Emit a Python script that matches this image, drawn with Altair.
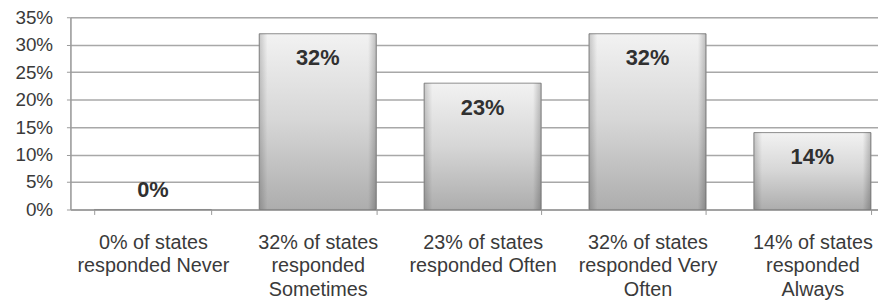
import altair as alt
import pandas as pd

categories = ["Never", "Sometimes", "Often", "Very Often", "Always"]
axis_labels = [
    "0% of states|responded Never",
    "32% of states|responded|Sometimes",
    "23% of states|responded Often",
    "32% of states|responded Very|Often",
    "14% of states|responded|Always",
]
values = [0, 32, 23, 32, 14]

df = pd.DataFrame({"cat": axis_labels, "value": values, "label": [f"{v}%" for v in values]})

x_scale = alt.Scale(range=[0, 832], paddingInner=0.29, paddingOuter=0.145)
x_enc = alt.X(
    "cat:N",
    sort=axis_labels,
    scale=x_scale,
    axis=alt.Axis(
        title=None,
        labelAngle=0,
        labelExpr="split(datum.label, '|')",
        labelFont="Liberation Sans",
        labelFontSize=20,
        labelColor="#3a3a3a",
        labelLineHeight=24,
        labelBaseline="top",
        labelPadding=18,
        labelLimit=400,
        labelOverlap=False,
        tickBand="extent",
        tickSize=5,
        tickColor="#9a9a9a",
        domainColor="#9a9a9a",
        domainWidth=1.5,
        grid=False,
    ),
)
y_scale = alt.Scale(domain=[0, 35], nice=False)
y_enc = alt.Y(
    "value:Q",
    scale=y_scale,
    axis=alt.Axis(
        title=None,
        values=[0, 5, 10, 15, 20, 25, 30, 35],
        labelExpr="datum.value + '%'",
        labelFont="Liberation Sans",
        labelFontSize=19,
        labelColor="#3a3a3a",
        labelPadding=14,
        labelOverlap=False,
        labelFlush=False,
        tickSize=4,
        tickColor="#9a9a9a",
        domainColor="#9a9a9a",
        domainWidth=1.5,
        gridColor="#a8a8a8",
        gridWidth=1.5,
    ),
)

base = alt.Chart(df)

bars = base.mark_bar(
    color=alt.Gradient(
        gradient="linear",
        x1=0, y1=0, x2=0, y2=1,
        stops=[
            alt.GradientStop(color="#f2f2f2", offset=0),
            alt.GradientStop(color="#d6d6d6", offset=0.5),
            alt.GradientStop(color="#adadad", offset=1),
        ],
    ),
    stroke="#8c8c8c",
    strokeWidth=1,
).encode(x=x_enc, y=y_enc)

edges = base.mark_bar(
    color=alt.Gradient(
        gradient="linear",
        x1=0, y1=0, x2=1, y2=0,
        stops=[
            alt.GradientStop(color="rgba(0,0,0,0.18)", offset=0),
            alt.GradientStop(color="rgba(0,0,0,0)", offset=0.07),
            alt.GradientStop(color="rgba(0,0,0,0)", offset=0.93),
            alt.GradientStop(color="rgba(0,0,0,0.22)", offset=1),
        ],
    ),
).encode(x=x_enc, y=y_enc)

text_in = base.transform_filter("datum.value > 0").mark_text(
    font="Liberation Sans", fontSize=22, fontWeight="bold", color="#303030",
    baseline="middle", dy=25,
).encode(x=x_enc, y=y_enc, text="label:N")

text_zero = base.transform_filter("datum.value == 0").mark_text(
    font="Liberation Sans", fontSize=22, fontWeight="bold", color="#303030",
    baseline="middle", dy=-20,
).encode(x=x_enc, y=y_enc, text="label:N")

chart = alt.layer(bars, edges, text_in, text_zero).properties(
    width=815,
    height=194,
    autosize=alt.AutoSizeParams(type="none"),
    padding={"left": 63, "top": 8, "right": 0, "bottom": 90},
).configure_view(stroke=None).configure(background="white")

chart.save("out.html", embed_options={"renderer": "svg", "actions": False})
